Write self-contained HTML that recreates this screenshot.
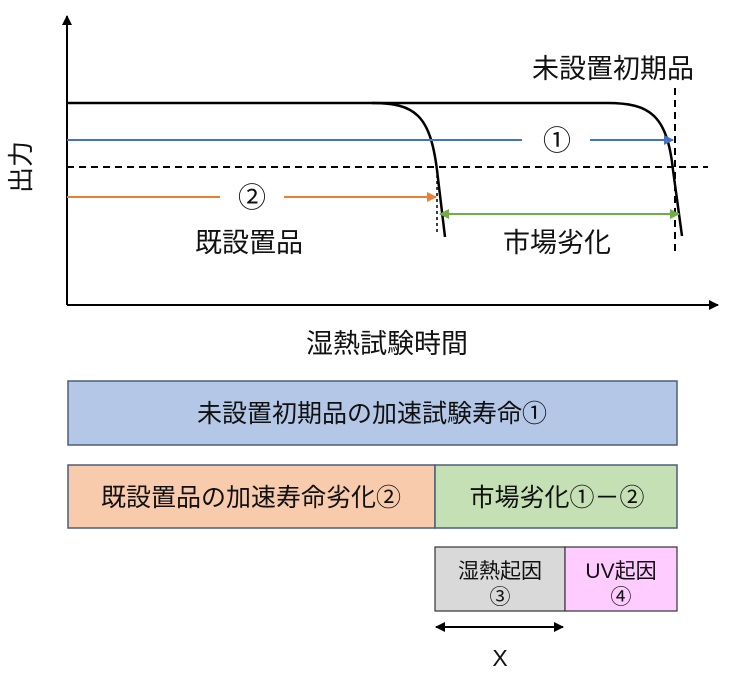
<!DOCTYPE html>
<html><head><meta charset="utf-8"><style>
body{margin:0;background:#fff}
text{font-family:"Liberation Sans","Noto Sans CJK JP",sans-serif;fill:#111}
</style></head><body>
<svg width="732" height="688" viewBox="0 0 732 688" xmlns="http://www.w3.org/2000/svg">
<defs>
<marker id="ak" markerWidth="10" markerHeight="10" refX="9" refY="5" orient="auto-start-reverse" markerUnits="userSpaceOnUse"><path d="M0,0 L10,5 L0,10z" fill="#000"/></marker>
<marker id="ab" markerWidth="10" markerHeight="10" refX="9" refY="5" orient="auto" markerUnits="userSpaceOnUse"><path d="M0,0 L10,5 L0,10z" fill="#4472c4"/></marker>
<marker id="ao" markerWidth="10" markerHeight="10" refX="9" refY="5" orient="auto" markerUnits="userSpaceOnUse"><path d="M0,0 L10,5 L0,10z" fill="#ed7d31"/></marker>
<marker id="ag" markerWidth="10" markerHeight="10" refX="9" refY="5" orient="auto-start-reverse" markerUnits="userSpaceOnUse"><path d="M0,0 L10,5 L0,10z" fill="#70ad47"/></marker>
</defs>
<line x1="67" y1="305" x2="67" y2="16" stroke="#000" stroke-width="2" marker-end="url(#ak)"/>
<line x1="67" y1="305" x2="718" y2="305" stroke="#000" stroke-width="2" marker-end="url(#ak)"/>
<path d="M67,103 L372,103 C415,103 430,115 437,170 L445,237" fill="none" stroke="#000" stroke-width="2.5"/>
<path d="M372,103 L607,103 C650,103 667,115 673,170 L682,236" fill="none" stroke="#000" stroke-width="2.5"/>
<line x1="67" y1="167" x2="708" y2="167" stroke="#000" stroke-width="2" stroke-dasharray="7,5"/>
<line x1="675" y1="88" x2="675" y2="256" stroke="#000" stroke-width="2" stroke-dasharray="7,5"/>
<line x1="437" y1="175" x2="437" y2="233" stroke="#000" stroke-width="1.5" stroke-dasharray="3,3"/>
<line x1="67" y1="140" x2="522" y2="140" stroke="#4472c4" stroke-width="2"/>
<line x1="590" y1="140" x2="673" y2="140" stroke="#4472c4" stroke-width="2" marker-end="url(#ab)"/>
<text x="557" y="150" font-size="28" text-anchor="middle">①</text>
<line x1="67" y1="197" x2="220" y2="197" stroke="#ed7d31" stroke-width="2"/>
<line x1="284" y1="197" x2="436" y2="197" stroke="#ed7d31" stroke-width="2" marker-end="url(#ao)"/>
<text x="252" y="207" font-size="28" text-anchor="middle">②</text>
<line x1="440" y1="214" x2="679" y2="214" stroke="#70ad47" stroke-width="2" marker-start="url(#ag)" marker-end="url(#ag)"/>
<text x="613" y="78" font-size="27" text-anchor="middle">未設置初期品</text>
<text x="249" y="252" font-size="27" text-anchor="middle">既設置品</text>
<text x="557" y="252" font-size="27" text-anchor="middle">市場劣化</text>
<text x="387" y="353" font-size="27" text-anchor="middle">湿熱試験時間</text>
<text transform="translate(30,167) rotate(-90)" font-size="26" text-anchor="middle">出力</text>
<rect x="68" y="381" width="609" height="64" fill="#b4c7e7" stroke="#4d5d78" stroke-width="1.5"/>
<text x="372" y="422" font-size="25" text-anchor="middle">未設置初期品の加速試験寿命①</text>
<rect x="68" y="465" width="367" height="63" fill="#f8cbad" stroke="#4d5d78" stroke-width="1.5"/>
<text x="251" y="506" font-size="25" text-anchor="middle">既設置品の加速寿命劣化②</text>
<rect x="435" y="465" width="242" height="63" fill="#c5e0b4" stroke="#4d5d78" stroke-width="1.5"/>
<text x="557" y="506" font-size="25" text-anchor="middle">市場劣化①－②</text>
<rect x="435" y="547" width="130" height="64" fill="#d9d9d9" stroke="#333" stroke-width="1.2"/>
<rect x="565" y="547" width="112" height="64" fill="#ffccff" stroke="#333" stroke-width="1.2"/>
<text x="500" y="578" font-size="21" text-anchor="middle">湿熱起因</text>
<text x="500" y="604" font-size="21" text-anchor="middle">③</text>
<text x="621" y="578" font-size="21" text-anchor="middle">UV起因</text>
<text x="621" y="604" font-size="21" text-anchor="middle">④</text>
<line x1="436" y1="627" x2="563" y2="627" stroke="#000" stroke-width="2" marker-start="url(#ak)" marker-end="url(#ak)"/>
<text x="500" y="666" font-size="23" text-anchor="middle">X</text>
</svg>
</body></html>
